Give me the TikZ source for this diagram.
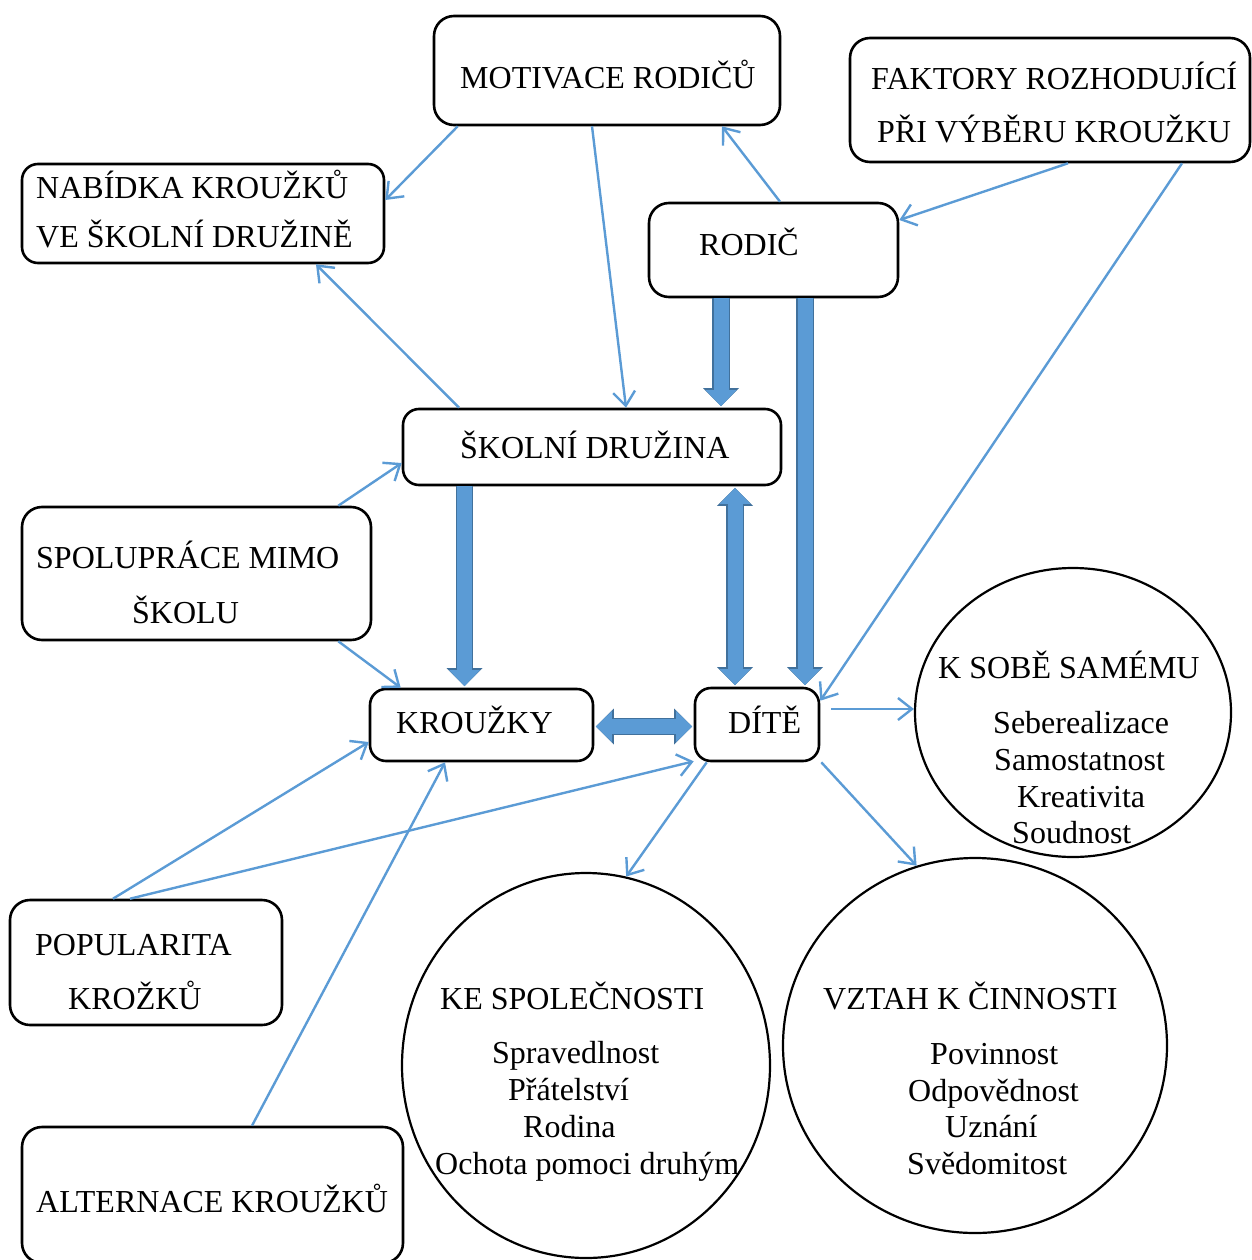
\documentclass[tikz,border=0pt]{standalone}
\usepackage{fontspec}
\setmainfont{Liberation Serif}
\usepackage{tikz}
\usetikzlibrary{arrows.meta,shapes.geometric}
\definecolor{linkblue}{HTML}{5B9BD5}
\definecolor{fatedge}{HTML}{41719C}
\tikzset{
  box/.style = {draw, line width=2.6pt, rounded corners=20pt, inner sep=0pt},
  oval/.style = {draw, ellipse, line width=2.2pt, inner sep=0pt},
  txt/.style = {anchor=base west, inner sep=0pt, font=\fontsize{32}{38}\selectfont},
  link/.style = {draw=linkblue, line width=2.4pt, -{Straight Barb[length=14pt,width=22pt]}},
  fatarrow/.style = {line width=15pt, draw=linkblue, shorten >=1.6pt, -{Triangle[length=16pt,width=31pt,line width=0pt]},
    preaction={draw=fatedge, line width=17.5pt, -{Triangle[length=18pt,width=36pt,line width=0pt]}}},
  fatboth/.style = {line width=15pt, draw=linkblue, shorten >=1.6pt, shorten <=1.6pt,
    {Triangle[length=16pt,width=31pt,line width=0pt]}-{Triangle[length=16pt,width=31pt,line width=0pt]},
    preaction={draw=fatedge, line width=17.5pt,
      {Triangle[length=18pt,width=36pt,line width=0pt]}-{Triangle[length=18pt,width=36pt,line width=0pt]}}}
}

\begin{document}
\begin{tikzpicture}[x=1pt,y=-1pt]
  \useasboundingbox (0,0) rectangle (1251,1260);

  \node[box, minimum width=346pt, minimum height=109pt] (motivace) at (607,70.5) {};
  \node[box, minimum width=400pt, minimum height=124pt] (faktory) at (1050,100) {};
  \node[box, rounded corners=16pt, minimum width=362pt, minimum height=99pt] (nabidka) at (203,213.5) {};
  \node[box, minimum width=249pt, minimum height=94pt] (rodic) at (773.5,250) {};
  \node[box, rounded corners=16pt, minimum width=378pt, minimum height=76pt] (druzina) at (592,447) {};
  \node[box, minimum width=349pt, minimum height=133pt] (spoluprace) at (196.5,573.5) {};
  \node[box, rounded corners=16pt, minimum width=223pt, minimum height=72pt] (krouzky) at (481.5,725) {};
  \node[box, rounded corners=16pt, minimum width=124pt, minimum height=73pt] (dite) at (757,724.5) {};
  \node[box, minimum width=272pt, minimum height=125pt] (popularita) at (146,962.5) {};
  \node[box, minimum width=381pt, minimum height=136pt] (alternace) at (212.5,1195) {};

  \node[oval, minimum width=316pt, minimum height=289pt] (sobe) at (1073,712.5) {};
  \node[oval, minimum width=368pt, minimum height=385pt] (spolecnost) at (586,1065.5) {};
  \node[oval, minimum width=384pt, minimum height=375pt] (cinnost) at (975,1045.5) {};

  \node[txt] (t-motivace) at (460,89) {MOTIVACE RODIČŮ};
  \node[txt] (t-faktory1) at (871,90) {FAKTORY ROZHODUJÍCÍ};
  \node[txt] (t-faktory2) at (877,143) {PŘI VÝBĚRU KROUŽKU};
  \node[txt] (t-nabidka1) at (36,199) {NABÍDKA KROUŽKŮ};
  \node[txt] (t-nabidka2) at (36,247) {VE ŠKOLNÍ DRUŽINĚ};
  \node[txt] (t-rodic) at (699,255) {RODIČ};
  \node[txt] (t-druzina) at (460,458) {ŠKOLNÍ DRUŽINA};
  \node[txt] (t-spoluprace1) at (36,568) {SPOLUPRÁCE MIMO};
  \node[txt] (t-spoluprace2) at (132,623) {ŠKOLU};
  \node[txt] (t-krouzky) at (396,733) {KROUŽKY};
  \node[txt] (t-dite) at (728,733) {DÍTĚ};
  \node[txt] (t-popularita1) at (35,955) {POPULARITA};
  \node[txt] (t-popularita2) at (68,1009) {KROŽKŮ};
  \node[txt] (t-alternace) at (36,1212) {ALTERNACE KROUŽKŮ};

  \node[txt] (t-sobe) at (938,678) {K SOBĚ SAMÉMU};
  \node[txt] (t-sobe1) at (993,733) {Seberealizace};
  \node[txt] (t-sobe2) at (994,770) {Samostatnost};
  \node[txt] (t-sobe3) at (1017,807) {Kreativita};
  \node[txt] (t-sobe4) at (1012,843) {Soudnost};

  \node[txt] (t-spol) at (440,1009) {KE SPOLEČNOSTI};
  \node[txt] (t-spol1) at (492,1063) {Spravedlnost};
  \node[txt] (t-spol2) at (508,1100) {Přátelství};
  \node[txt] (t-spol3) at (523,1137) {Rodina};
  \node[txt] (t-spol4) at (435,1174) {Ochota pomoci druhým};

  \node[txt] (t-cin) at (823,1009) {VZTAH K ČINNOSTI};
  \node[txt] (t-cin1) at (930,1064) {Povinnost};
  \node[txt] (t-cin2) at (908,1101) {Odpovědnost};
  \node[txt] (t-cin3) at (945,1137) {Uznání};
  \node[txt] (t-cin4) at (907,1174) {Svědomitost};

  \draw[fatarrow] ([xshift=-52.5pt]rodic.south) -- ([xshift=-52.5pt]rodic.south |- druzina.north);
  \draw[fatarrow] ([xshift=31.5pt]rodic.south) -- ([xshift=31.5pt]rodic.south |- dite.north);
  \draw[fatarrow] ([xshift=-127.5pt]druzina.south) -- ([xshift=-127.5pt]druzina.south |- krouzky.north);
  \draw[fatboth] ([xshift=143pt]druzina.south) -- ([xshift=143pt]druzina.south |- dite.north);
  \draw[fatboth] ([yshift=-1.5pt]krouzky.east) -- ([yshift=-1.5pt]krouzky.east -| dite.west);

  \draw[link] ([xshift=25pt]motivace.south west) -- ([yshift=13.5pt]nabidka.east);
  \draw[link] ([xshift=-15pt]motivace.south) -- ([xshift=34pt]druzina.north);
  \draw[link] ([xshift=6.5pt]rodic.north) -- ([xshift=115pt]motivace.south);
  \draw[link] ([xshift=18pt]faktory.south) -- ([yshift=30pt]rodic.east);
  \draw[link] ([xshift=132pt]faktory.south) -- ([yshift=-14pt]dite.north east);
  \draw[link] ([xshift=-133pt]druzina.north) -- ([xshift=113pt]nabidka.south);
  \draw[link] ([xshift=-34pt]spoluprace.north east) -- ([yshift=-16pt]druzina.west);
  \draw[link] ([xshift=-34pt]spoluprace.south east) -- ([xshift=32pt]krouzky.north west);
  \draw[link] ([xshift=-33pt]popularita.north) -- ([yshift=-17pt]krouzky.west);
  \draw[link] ([xshift=-16pt]popularita.north) -- ([yshift=1pt]dite.south west);
  \draw[link] ([xshift=39.5pt]alternace.north) -- ([xshift=-36.5pt]krouzky.south);
  \draw[link] ([xshift=11pt,yshift=15.5pt]dite.east) -- ([yshift=3.5pt]sobe.west);
  \draw[link] ([xshift=13pt]dite.south west) -- (spolecnost.78);
  \draw[link] ([xshift=1pt]dite.south east) -- (cinnost.108.6);
\end{tikzpicture}
\end{document}
